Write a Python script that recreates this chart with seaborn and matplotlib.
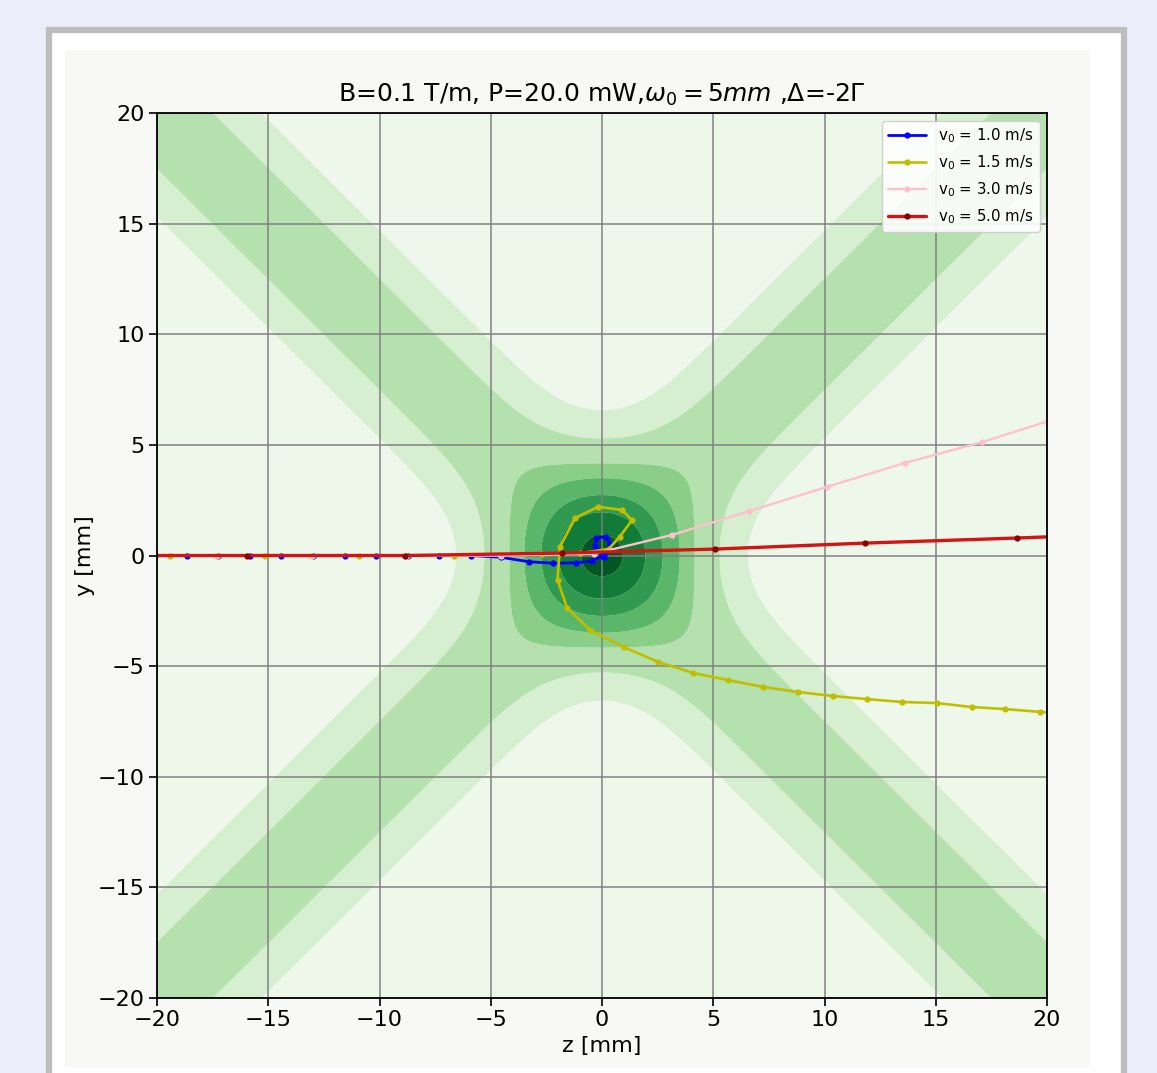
import numpy as np
import pandas as pd
import matplotlib
matplotlib.use("Agg")
import matplotlib.pyplot as plt
from matplotlib.patches import Rectangle
import seaborn as sns

# ---------------- data ----------------
series_labels = [r"$\mathrm{v}_0$ = 1.0 m/s", r"$\mathrm{v}_0$ = 1.5 m/s",
                 r"$\mathrm{v}_0$ = 3.0 m/s", r"$\mathrm{v}_0$ = 5.0 m/s"]
series_colors = ["#0000ff", "#bfbf00", "#ffc0cb", "#d41414"]

blue_z = [-20.09, -18.67, -17.25, -15.83, -14.41, -12.99, -11.57, -10.15, -8.73, -7.31,
          -5.89, -4.55, -3.3, -2.2, -1.15, -0.45, 0.1, 0.35, 0.2, -0.25, -0.3, 0.0, 0.1, 0.0]
blue_y = [0, 0, 0, 0, 0, 0, 0, 0, 0, 0,
          0, -0.08, -0.28, -0.35, -0.33, -0.25, 0.05, 0.5, 0.85, 0.8, 0.45, 0.1, -0.05, 0.0]

yellow_z = [-21.55, -19.42, -17.29, -15.16, -13.03, -10.90, -8.77, -6.64,
            -4.6, -2.7, -1.0, 0.3,
            0.8, 1.35, 0.9, -0.18, -1.2, -1.89, -2.0, -1.57, -0.54,
            1.0, 2.52, 4.1, 5.66, 7.24, 8.81, 10.38, 11.9, 13.48, 15.06, 16.63, 18.1, 19.7, 21.2]
yellow_y = [0, 0, 0, 0, 0, 0, 0, 0,
            0.02, 0.05, 0.1, 0.3,
            0.85, 1.6, 2.06, 2.2, 1.7, 0.4, -1.1, -2.37, -3.37,
            -4.15, -4.81, -5.31, -5.63, -5.94, -6.17, -6.35, -6.49, -6.62, -6.67, -6.85, -6.94, -7.07, -7.17]

pink_z = [-21.58, -17.32, -13.05, -8.79, -4.53, -0.35, 3.15, 6.6, 10.1, 13.6, 17.1, 20.6]
pink_y = [0, 0, 0, 0, 0, 0.08, 0.93, 2.0, 3.1, 4.18, 5.13, 6.25]

red_z = [-23.07, -15.97, -8.85, -1.8, 5.08, 11.8, 18.65, 25.4]
red_y = [0, 0, 0, 0.11, 0.29, 0.56, 0.79, 1.05]

ticks = [-20, -15, -10, -5, 0, 5, 10, 15, 20]

# background field parameters (two crossed beams + trap core)
beam_s2 = 15.0      # mm^2
core_amp = 0.574
core_s2 = 8.6       # mm^2
field_levels = [-1.0, 0.48, 0.81, 1.2, 1.47, 1.80, 2.13, 2.46, 10.0]

# ---------------- figure ----------------
sns.set_style("ticks")
plt.rcParams["font.family"] = ["DejaVu Sans"]
plt.rcParams["text.color"] = "black"
plt.rcParams["axes.labelcolor"] = "black"
plt.rcParams["xtick.color"] = "black"
plt.rcParams["ytick.color"] = "black"

W, H = 1157, 1073
fig = plt.figure(figsize=(W / 100, H / 100), dpi=100)
fig.patch.set_facecolor("#ececfb")

fig.patches.append(Rectangle((49 / W, -20 / H), (1124 - 49) / W, (1043 + 20) / H,
                             transform=fig.transFigure, facecolor="white",
                             edgecolor="#bdbdbd", linewidth=4.5, zorder=-10))
fig.patches.append(Rectangle((65 / W, (H - 1067) / H), (1090 - 65) / W, (1067 - 50) / H,
                             transform=fig.transFigure, facecolor="#f8f9f7",
                             edgecolor="none", zorder=-9))

ax = fig.add_axes([157 / W, (H - 998) / H, 890 / W, 885 / H])
ax.patch.set_alpha(0)

zz = np.linspace(-20, 20, 500)
Z, Y = np.meshgrid(zz, zz)
r1 = (Z + Y) / np.sqrt(2)
r2 = (Z - Y) / np.sqrt(2)
F = np.exp(-r1 ** 2 / beam_s2) + np.exp(-r2 ** 2 / beam_s2) + core_amp * np.exp(-(Z ** 2 + Y ** 2) / core_s2)
cmap = plt.get_cmap("Greens")
nb = len(field_levels) - 1
fill_colors = [cmap((i + 0.5) / nb) for i in range(nb)]
ax.contourf(Z, Y, F, levels=field_levels, colors=fill_colors, antialiased=True)

traj = [(blue_z, blue_y), (yellow_z, yellow_y), (pink_z, pink_y), (red_z, red_y)]
widths = [2.0, 1.9, 1.7, 2.4]
for (zs, ys), lab, col, lw in zip(traj, series_labels, series_colors, widths):
    df = pd.DataFrame({"z": zs, "y": ys})
    mfc = "#8b0000" if col == "#d41414" else col
    sns.lineplot(data=df, x="z", y="y", sort=False, estimator=None, color=col,
                 marker="o", markersize=4.5, markeredgewidth=0, markerfacecolor=mfc,
                 linewidth=lw, label=lab, ax=ax)

ax.set_xlim(-20, 20)
ax.set_ylim(-20, 20)
ax.set_xticks(ticks)
ax.set_yticks(ticks)
ax.set_axisbelow("line")
ax.grid(True, color="#808080", linewidth=1.2, alpha=0.9)
ax.tick_params(axis="both", labelsize=16, length=5.5, width=1.2, direction="out", color="black",
               labelcolor="black")
for sp in ax.spines.values():
    sp.set_visible(True)
    sp.set_linewidth(1.3)
    sp.set_color("black")

ax.set_xlabel("z [mm]", fontsize=16, labelpad=4)
ax.set_ylabel("y [mm]", fontsize=16, labelpad=2)
ax.set_title(r"B=0.1 T/m, P=20.0 mW,$\omega_0 = 5mm$ ,Δ=-2Γ", fontsize=18, pad=8)

ax.legend(loc="upper right", fontsize=10.8, handlelength=2.5, labelspacing=0.55,
          frameon=True, framealpha=0.9, edgecolor="#cccccc", fancybox=True)

fig.savefig("out.png", dpi=100, facecolor=fig.get_facecolor())
